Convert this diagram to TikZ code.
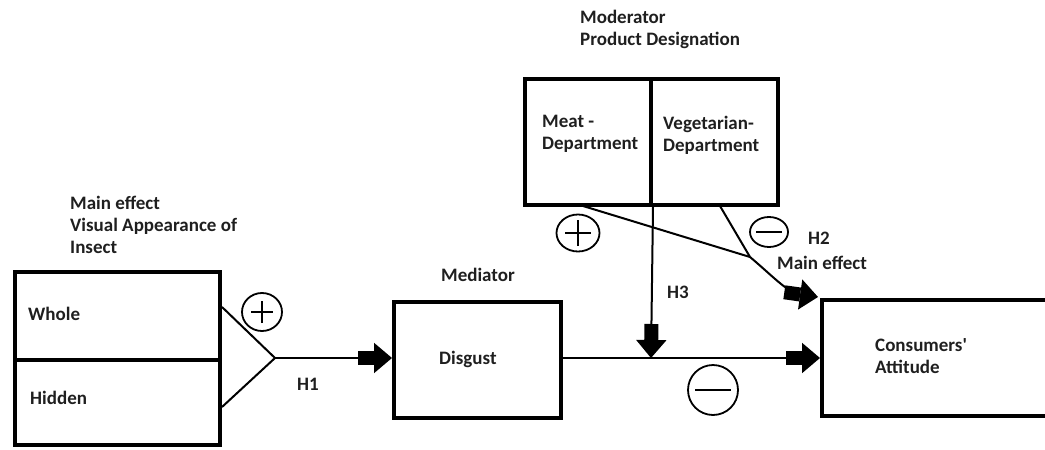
\documentclass[tikz,border=0pt]{standalone}
\usepackage{fontspec}
\setmainfont{Carlito}
\usetikzlibrary{arrows.meta,shapes.geometric}
\begin{document}
\begin{tikzpicture}[x=1pt,y=-1pt,
  box/.style={draw, line width=4pt, inner sep=0pt},
  conn/.style={line width=2pt},
  blk/.style={conn, -{Rectangle[length=16pt,width=14pt,sep=0pt]Triangle[length=18pt,width=30pt]}},
  lbl/.style={font=\fontsize{19}{22}\selectfont\bfseries, text=black!88, inner sep=0pt, anchor=west, align=left},
  sign/.style={draw, ellipse, line width=1.8pt, inner sep=0pt},
  plussign/.style={sign, path picture={
      \draw[line width=1.8pt] ([xshift=-#1]path picture bounding box.center) -- ([xshift=#1]path picture bounding box.center)
                              ([yshift=-#1]path picture bounding box.center) -- ([yshift=#1]path picture bounding box.center);}},
  minussign/.style={sign, path picture={
      \draw[line width=1.8pt] ([xshift=-#1]path picture bounding box.center) -- ([xshift=#1]path picture bounding box.center);}}
]
\useasboundingbox (0,0) rectangle (1045,450);
\clip (0,0) rectangle (1045,450);

% boxes
\node[box, minimum width=205pt, minimum height=88pt] (whole) at (117.5,316) {};
\node[box, minimum width=205pt, minimum height=85pt] (hidden) at (117.5,402.5) {};
\node[box, minimum width=167pt, minimum height=116pt] (disgust) at (477.5,360) {};
\node[box, minimum width=126pt, minimum height=126pt] (meat) at (588,142) {};
\node[box, minimum width=127pt, minimum height=126pt] (veg) at (714.5,142) {};
\node[box, minimum width=278pt, minimum height=116pt] (cons) at (961,358) {};

% texts
\node[lbl] (t-main) at (70,225) {Main effect\\Visual Appearance of\\Insect};
\node[lbl] (t-whole) at (28,314) {Whole};
\node[lbl] (t-hidden) at (30,398) {Hidden};
\node[lbl] (t-h1) at (297,384) {H1};
\node[lbl, anchor=center] (t-med) at (478,275) {Mediator};
\node[lbl] (t-disg) at (439,359) {Disgust};
\node[lbl] (t-mod) at (580,29) {Moderator\\Product Designation};
\node[lbl] (t-meat) at (542,134) {Meat -\\Department};
\node[lbl] (t-veg) at (663,135) {Vegetarian-\\Department};
\node[lbl] (t-h2) at (808,238) {H2};
\node[lbl] (t-me2) at (777,263) {Main effect};
\node[lbl] (t-h3) at (667,292) {H3};
\node[lbl] (t-cons) at (875,356) {Consumers\textquotesingle\\Attitude};

% signs
\node[plussign=11pt, minimum width=40pt, minimum height=38pt] (s1) at (262,312) {};
\node[minussign=18pt, minimum width=50pt, minimum height=50pt] (s2) at (713,390) {};
\node[plussign=13pt, minimum width=43pt, minimum height=37pt] (s3) at (578,233) {};
\node[minussign=13pt, minimum width=38pt, minimum height=30pt] (s4) at (769,232) {};

% connector geometry
\coordinate (tA) at (222,307);
\coordinate (apex) at (275,358);
\coordinate (tB) at (222,407);
\coordinate (m1) at (583,206);
\coordinate (v1) at (720,206);
\coordinate (J) at (750,257);
\coordinate (ctip) at (818,297);
\coordinate (h3end) at (651,358);

\draw[conn] (tA) -- (apex) -- (tB);
\draw[blk] (apex) -- (apex -| disgust.west);
\draw[blk] (disgust.east |- 0,358) -- (cons.west |- 0,358);
\draw[blk] (meat.south east) -- (h3end);
\draw[conn] (m1) -- (J);
\draw[conn] (v1) -- (J);
\draw[blk] (J) to[out=-40,in=172] (ctip);
\end{tikzpicture}
\end{document}
